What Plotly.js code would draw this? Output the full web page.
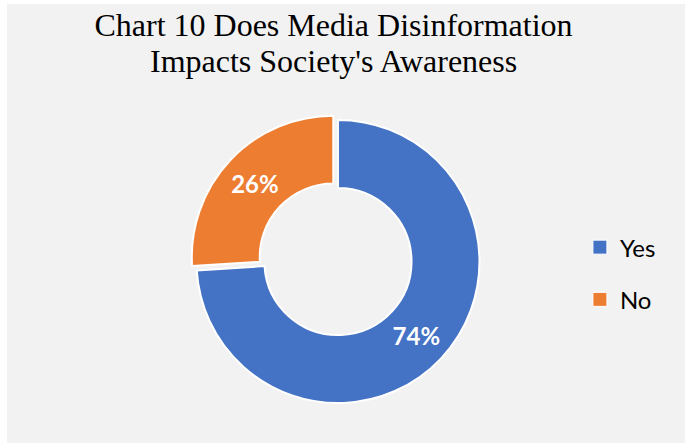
<!DOCTYPE html>
<html>
<head>
<meta charset="utf-8">
<script src="https://cdn.plot.ly/plotly-3.0.1.min.js"></script>
<style>
  html, body { margin: 0; padding: 0; background: #ffffff; }
  #chart { position: absolute; left: 7px; top: 4px; width: 678px; height: 439px; }
</style>
</head>
<body>
<div id="chart"></div>
<script>
const categories = ['Yes', 'No'];
const values = [74, 26];
const colors = ['#4472C4', '#ED7D31'];
const pulls = [0, 0.045];
const titleLine1 = "Chart 10 Does Media Disinformation";
const titleLine2 = "Impacts Society's Awareness";

const serif = '"Liberation Serif", "Times New Roman", serif';

const pieTrace = {
  type: 'pie',
  labels: categories,
  values: values,
  sort: false,
  direction: 'clockwise',
  rotation: 0,
  hole: 0.52,
  pull: pulls,
  marker: { colors: colors, line: { color: '#ffffff', width: 2 } },
  textinfo: 'percent',
  textposition: 'inside',
  insidetextorientation: 'horizontal',
  textfont: { family: 'Lato, sans-serif', size: 24, color: '#ffffff', weight: 'bold' },
  domain: { x: [0.270, 0.7063], y: [0.0766, 0.7503] },
  showlegend: false,
  hoverinfo: 'none'
};

// legend entries built from the same categories / colours
const legendTraces = categories.map((c, i) => ({
  type: 'scatter',
  mode: 'markers',
  x: [null],
  y: [null],
  name: c,
  legendgroup: 'g' + i,
  marker: { symbol: 'square', size: 14, color: colors[i], line: { color: '#ffffff', width: 1 } },
  hoverinfo: 'none'
}));

const layout = {
  width: 678,
  height: 439,
  paper_bgcolor: '#F2F2F2',
  plot_bgcolor: 'rgba(0,0,0,0)',
  margin: { l: 0, r: 0, t: 0, b: 0 },
  title: {
    text: titleLine1,
    font: { family: serif, size: 32, color: '#000000' },
    x: 0.4816,
    xanchor: 'center',
    y: 0.977,
    yanchor: 'top'
  },
  annotations: [{
    text: titleLine2,
    font: { family: serif, size: 32, color: '#000000' },
    xref: 'paper', yref: 'paper',
    x: 0.4816, xanchor: 'center',
    y: 0.9157, yanchor: 'top',
    showarrow: false
  }],
  xaxis: { visible: false },
  yaxis: { visible: false },
  legend: {
    x: 0.845,
    xanchor: 'left',
    y: 0.386,
    yanchor: 'middle',
    tracegroupgap: 18,
    bgcolor: 'rgba(0,0,0,0)',
    font: { family: 'Lato, sans-serif', size: 24, color: '#000000' }
  },
  showlegend: true
};

Plotly.newPlot('chart', [pieTrace].concat(legendTraces), layout, { staticPlot: true, displayModeBar: false });
</script>
</body>
</html>
